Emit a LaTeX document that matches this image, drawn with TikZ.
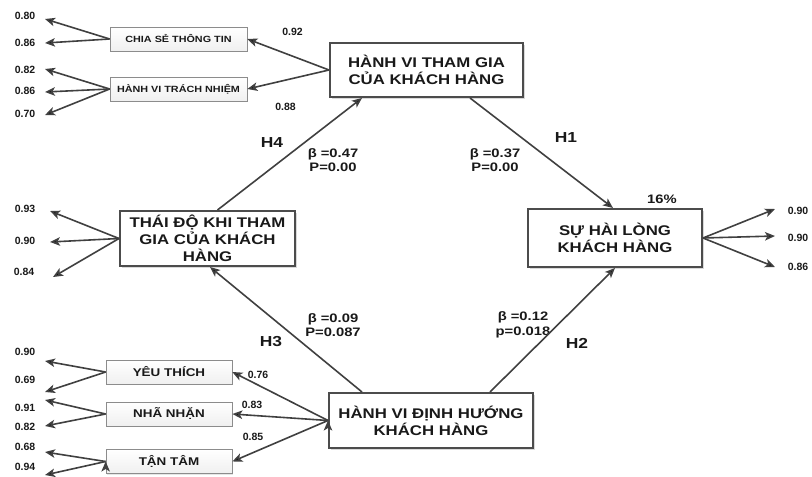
\documentclass[tikz,border=0pt]{standalone}
\usepackage{fontspec}
\setmainfont{Liberation Sans}
\newfontfamily\wide[FakeStretch=1.2]{Liberation Sans}
\usetikzlibrary{positioning,arrows.meta,shadows}

\begin{document}
\begin{tikzpicture}[x=1pt,y=-1pt,
  construct/.style={draw=black!70,line width=2pt,fill=white,align=center,inner sep=0pt,
    text=black!90,font=\wide\bfseries\fontsize{14}{17}\selectfont,
    drop shadow={shadow xshift=2pt,shadow yshift=-2pt,opacity=0.3}},
  item/.style={draw=black!45,line width=0.7pt,top color=white,bottom color=black!6,inner sep=0pt,minimum height=24pt,
    text=black!90,drop shadow={shadow xshift=1pt,shadow yshift=-1pt,opacity=0.2}},
  num/.style={font=\bfseries\fontsize{10.5}{12}\selectfont,inner sep=0pt,text=black!90},
  coef/.style={font=\wide\bfseries\fontsize{12.3}{14.5}\selectfont,align=center,inner sep=0pt,text=black!90},
  hyp/.style={font=\wide\bfseries\fontsize{14.5}{16}\selectfont,inner sep=0pt,text=black!90},
  link/.style={line width=1.6pt,draw=black!75,-{Stealth[length=10pt,width=8.5pt,inset=2.5pt]}}]
  \useasboundingbox (0,0) rectangle (812,477);

  \node (1) [construct,minimum width=193pt,minimum height=54pt] at (426.5,70) {HÀNH VI THAM GIA\\CỦA KHÁCH HÀNG};
  \node (2) [construct,minimum width=174pt,minimum height=58pt] at (615,238) {SỰ HÀI LÒNG\\KHÁCH HÀNG};
  \node (3) [construct,minimum width=175pt,minimum height=55pt] at (207.5,238.5) {THÁI ĐỘ KHI THAM\\GIA CỦA KHÁCH\\HÀNG};
  \node (4) [construct,minimum width=204pt,minimum height=55pt] at (431,420.5) {HÀNH VI ĐỊNH HƯỚNG\\KHÁCH HÀNG};

  \node (5) [item,minimum width=137pt,font=\wide\bfseries\fontsize{9}{11}\selectfont] at (178.5,39) {CHIA SẺ THÔNG TIN};
  \node (6) [item,minimum width=137pt,font=\wide\bfseries\fontsize{9}{11}\selectfont] at (178.5,89) {HÀNH VI TRÁCH NHIỆM};
  \node (7) [item,minimum width=126pt,font=\wide\bfseries\fontsize{11.2}{13}\selectfont] at (169,372) {YÊU THÍCH};
  \node (8) [item,minimum width=126pt,font=\wide\bfseries\fontsize{11.2}{13}\selectfont] at (169,414) {NHÃ NHẶN};
  \node (9) [item,minimum width=126pt,font=\wide\bfseries\fontsize{11.2}{13}\selectfont] at (169,461.5) {TẬN TÂM};

  % indicator ends
  \coordinate (5a) at (45,19);
  \coordinate (5b) at (45,43);
  \coordinate (6a) at (45,69);
  \coordinate (6b) at (45,92);
  \coordinate (6c) at (45,115);
  \coordinate (3a) at (50,211);
  \coordinate (3b) at (50,242);
  \coordinate (3c) at (53,277);
  \coordinate (2a) at (775,209);
  \coordinate (2b) at (775,236);
  \coordinate (2c) at (775,267);
  \coordinate (7a) at (45,361);
  \coordinate (7b) at (45,392);
  \coordinate (8a) at (45,400);
  \coordinate (8b) at (45,426);
  \coordinate (9a) at (45,452);
  \coordinate (9b) at (45,475);

  \node [num] at (25,16) {0.80};
  \node [num] at (25,43) {0.86};
  \node [num] at (25,70) {0.82};
  \node [num] at (25,91) {0.86};
  \node [num] at (25,114) {0.70};
  \node [num] at (25,209) {0.93};
  \node [num] at (25,241) {0.90};
  \node [num] at (24,272) {0.84};
  \node [num] at (798,211) {0.90};
  \node [num] at (798,238) {0.90};
  \node [num] at (798,267) {0.86};
  \node [num] at (25,352) {0.90};
  \node [num] at (25,380) {0.69};
  \node [num] at (25,408) {0.91};
  \node [num] at (25,427) {0.82};
  \node [num] at (25,447) {0.68};
  \node [num] at (25,467) {0.94};

  \node [num] at (292.5,32) {0.92};
  \node [num] at (285.5,107) {0.88};
  \node [num] at (258,375) {0.76};
  \node [num] at (252,405) {0.83};
  \node [num] at (253,437) {0.85};

  \node [hyp] at (272,143) {H4};
  \node [hyp] at (566,138) {H1};
  \node [hyp] at (271,342) {H3};
  \node [hyp] at (577,343) {H2};
  \node [coef] at (333,160) {β =0.47\\P=0.00};
  \node [coef] at (495,160) {β =0.37\\P=0.00};
  \node [coef] at (333,325) {β =0.09\\P=0.087};
  \node [coef] at (523,325) {β =0.12\\p=0.018};
  \node [coef] at (662,199) {16\%};

  \path[link]
  (1.west) edge (5.east)
  (1.west) edge (6.east)
  ([xshift=10pt]3.north) edge ([xshift=-64.5pt]1.south)
  ([xshift=43.5pt]1.south) edge ([xshift=-2pt]2.north)
  ([xshift=-69pt]4.north) edge ([xshift=2.5pt]3.south)
  ([xshift=59pt]4.north) edge (2.south)
  (4.west) edge (7.east)
  (4.west) edge (8.east)
  (4.west) edge (9.east);

  \path[link]
  (5.west) edge (5a)
  (5.west) edge (5b)
  (6.west) edge (6a)
  (6.west) edge (6b)
  (6.west) edge (6c)
  (3.west) edge (3a)
  (3.west) edge (3b)
  (3.west) edge (3c)
  (2.east) edge (2a)
  (2.east) edge (2b)
  (2.east) edge (2c)
  (7.west) edge (7a)
  (7.west) edge (7b)
  (8.west) edge (8a)
  (8.west) edge (8b)
  (9.west) edge (9a)
  (9.west) edge (9b);
\end{tikzpicture}
\end{document}
